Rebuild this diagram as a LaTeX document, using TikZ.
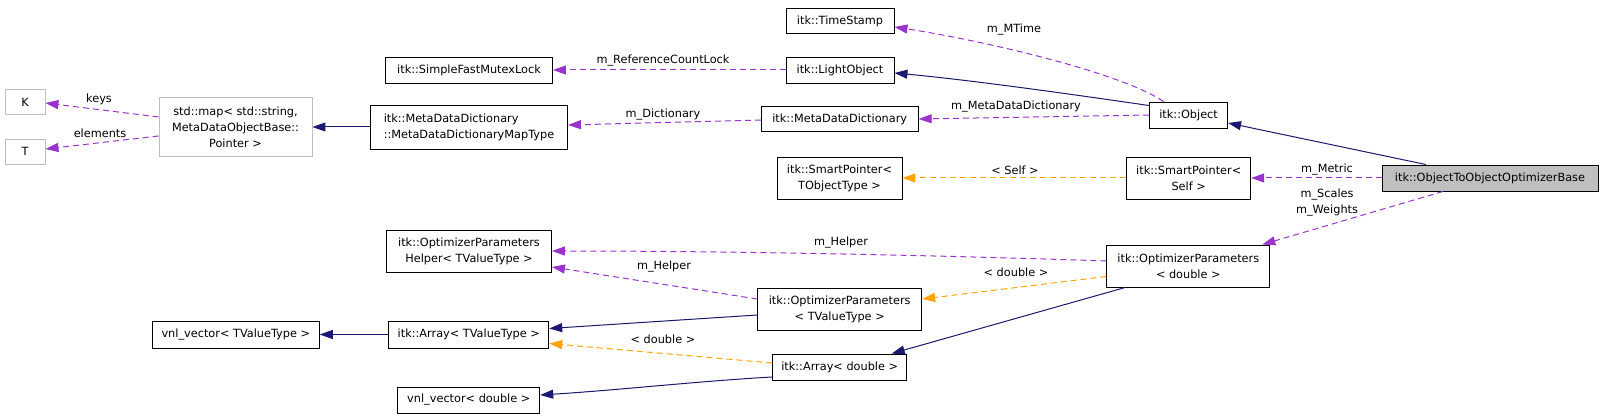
\documentclass[tikz,border=0pt]{standalone}
\usepackage{fontspec}
\newfontfamily\dvs{DejaVu Sans}
\usetikzlibrary{arrows.meta,calc}
\definecolor{navy}{HTML}{191970}
\definecolor{orch}{HTML}{9A32CD}
\definecolor{orng}{HTML}{FFA500}
\definecolor{gry}{HTML}{BFBFBF}
\newcommand\dxf{\dvs\fontsize{11.3pt}{16pt}\selectfont}
\begin{document}
\begin{tikzpicture}[x=1pt,y=-1pt,
  box/.style={draw=black, line width=0.9pt, fill=white, inner sep=2pt, align=center, font=\dxf},
  gbox/.style={box, draw=gry},
  tipn/.style={-{Triangle[length=13pt,width=9pt]}},
  inh/.style={draw=navy, line width=1pt, tipn},
  usee/.style={draw=orch, line width=1pt, dash pattern=on 6pt off 4pt, tipn},
  tmpl/.style={draw=orng, line width=1pt, dash pattern=on 6pt off 4pt, tipn},
  lbl/.style={font=\dxf, inner sep=0pt, align=center}
]
\useasboundingbox (0,0) rectangle (1605,419);

% nodes
\node[gbox, minimum width=40, minimum height=25] (K) at (25,102) {K};
\node[gbox, minimum width=40, minimum height=25] (T) at (25,151.5) {T};
\node[gbox, minimum width=153, minimum height=59] (smap) at (235.5,127) {std::map< std::string,\\MetaDataObjectBase::\\Pointer >};
\node[box, align=left, minimum width=197, minimum height=44] (MapT) at (469,127) {itk::MetaDataDictionary\\::MetaDataDictionaryMapType};
\node[box, minimum width=167, minimum height=26] (SFML) at (469,70) {itk::SimpleFastMutexLock};
\node[box, minimum width=108, minimum height=25] (TS) at (840,21) {itk::TimeStamp};
\node[box, minimum width=108, minimum height=26] (LO) at (840,70) {itk::LightObject};
\node[box, minimum width=157, minimum height=25] (MDD) at (839.7,119) {itk::MetaDataDictionary};
\node[box, minimum width=78, minimum height=26] (Obj) at (1188.6,115) {itk::Object};
\node[box, minimum width=125, minimum height=42] (SPT) at (839.5,178) {itk::SmartPointer<\\TObjectType >};
\node[box, minimum width=124, minimum height=42] (SPS) at (1188.7,178) {itk::SmartPointer<\\Self >};
\node[box, fill=gry, minimum width=216, minimum height=26] (OTO) at (1490,178) {itk::ObjectToObjectOptimizerBase};
\node[box, minimum width=165, minimum height=42] (OPH) at (469,251) {itk::OptimizerParameters\\Helper< TValueType >};
\node[box, minimum width=163, minimum height=42] (OPd) at (1188.3,266) {itk::OptimizerParameters\\< double >};
\node[box, minimum width=164, minimum height=42] (OPT) at (839.7,309) {itk::OptimizerParameters\\< TValueType >};
\node[box, minimum width=167, minimum height=27] (vnlT) at (235.8,334.5) {vnl\_vector< TValueType >};
\node[box, minimum width=160, minimum height=27] (ArrT) at (468.8,334.5) {itk::Array< TValueType >};
\node[box, minimum width=134, minimum height=26] (Arrd) at (839.7,367) {itk::Array< double >};
\node[box, minimum width=142, minimum height=26] (vnld) at (468.8,400) {vnl\_vector< double >};

% connectors
\draw[usee] ($(smap.west)+(0,-10)$) -- ($(K.east)+(0,1)$);
\draw[usee] ($(smap.west)+(0,9)$) -- ($(T.east)+(0,-2.5)$);
\draw[inh] (MapT.west) -- (smap.east);
\draw[usee] ($(MDD.west)+(0,1)$) -- ($(MapT.east)+(0,-2)$);
\draw[usee] (LO.west) -- (SFML.east);
\draw[usee] ($(Obj.north)+(-25,0)$) .. controls (1120,72) and (980,40) .. ($(TS.east)+(0,6)$);
\draw[inh] ($(Obj.north west)+(0,4)$) .. controls (1070,94) and (970,80) .. ($(LO.east)+(0,3)$);
\draw[usee] (Obj.west) -- (MDD.east);
\draw[inh] ($(OTO.north)+(-64,0)$) -- ($(Obj.east)+(0,8)$);
\draw[usee] (OTO.west) -- (SPS.east);
\draw[tmpl] (SPS.west) -- (SPT.east);
\draw[usee] ($(OTO.south)+(-47,0)$) -- ($(OPd.north)+(74,0)$);
\draw[usee] ($(OPd.west)+(0,-5)$) .. controls (900,254) and (700,251) .. (OPH.east);
\draw[tmpl] ($(OPd.west)+(0,10.5)$) -- ($(OPT.east)+(0,-10)$);
\draw[inh] ($(OPd.south)+(-63,0)$) -- ($(Arrd.north)+(52,0)$);
\draw[usee] ($(OPT.west)+(0,-10)$) -- ($(OPH.east)+(0,16)$);
\draw[inh] ($(OPT.west)+(0,6)$) -- ($(ArrT.east)+(0,-6)$);
\draw[inh] (ArrT.west) -- (vnlT.east);
\draw[tmpl] ($(Arrd.west)+(0,-4)$) -- ($(ArrT.east)+(0,9)$);
\draw[inh] ($(Arrd.west)+(0,10)$) .. controls (700,381) and (620,390) .. ($(vnld.east)+(0,-5)$);

% labels
\node[lbl] (lkeys) at (99,99) {keys};
\node[lbl] (lelem) at (100,133) {elements};
\node[lbl] (ldict) at (663,115) {m\_Dictionary};
\node[lbl] (lrcl) at (663,61) {m\_ReferenceCountLock};
\node[lbl] (lmt) at (1014,30) {m\_MTime};
\node[lbl] (lmdd) at (1016,107) {m\_MetaDataDictionary};
\node[lbl] (lmet) at (1327,170) {m\_Metric};
\node[lbl] (lself) at (1015,170) {< Self >};
\node[lbl] (lsw) at (1327,202.5) {m\_Scales\\m\_Weights};
\node[lbl] (lh1) at (841,243) {m\_Helper};
\node[lbl] (ld1) at (1016,272) {< double >};
\node[lbl] (lh2) at (664,267) {m\_Helper};
\node[lbl] (ld2) at (663,339) {< double >};
\end{tikzpicture}
\end{document}
